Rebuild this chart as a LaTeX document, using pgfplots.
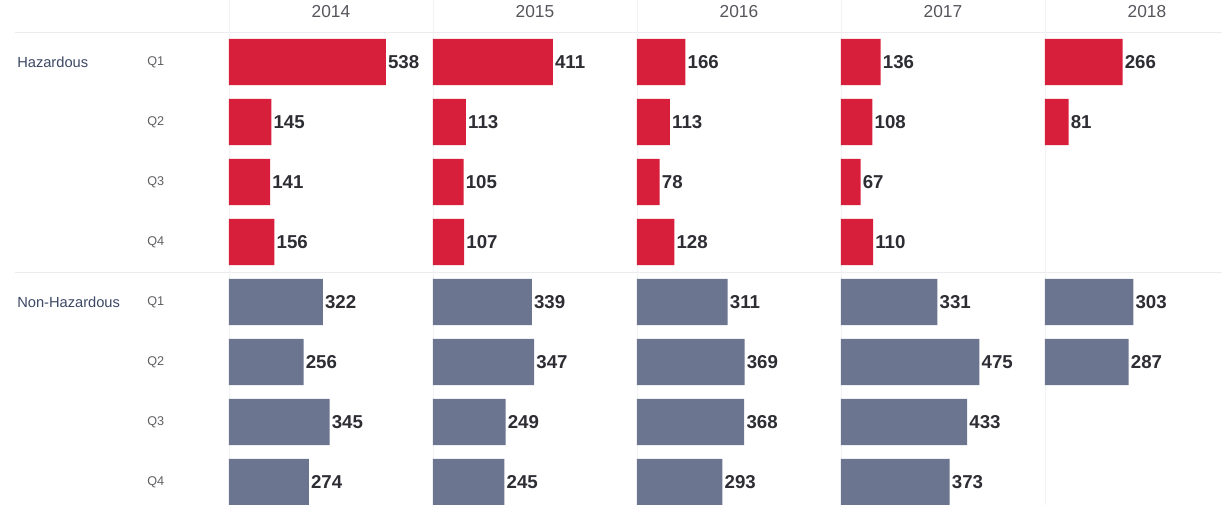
\documentclass[border=0pt]{standalone}
\usepackage{fontspec}
\setmainfont{Liberation Sans}
\usepackage{pgfplots}
\pgfplotsset{compat=1.18}
\usepgfplotslibrary{groupplots}
\definecolor{hz}{RGB}{215,30,58}
\definecolor{nh}{RGB}{108,117,143}
\definecolor{vtxt}{RGB}{45,45,52}
\definecolor{htxt}{RGB}{85,85,92}
\definecolor{qtxt}{RGB}{95,95,100}
\definecolor{ltxt}{RGB}{60,72,100}
\definecolor{gridc}{RGB}{236,236,238}
\definecolor{vgrid}{RGB}{242,242,244}
\begin{document}
\begin{tikzpicture}
\begin{groupplot}[
  group style={group size=5 by 1, horizontal sep=0pt, group name=G},
  width=153pt, height=354pt, scale only axis,
  xmin=0, xmax=700, ymin=-0.5, ymax=7.367, y dir=reverse,
  axis line style={draw=none}, major tick length=0pt,
  xtick=\empty, ytick=\empty,
  clip=false,
  xbar, /pgf/bar width=0.77, /pgf/bar shift=0pt,
  point meta=x,
  /pgf/number format/assume math mode=true,
  nodes near coords,
  nodes near coords style={font=\fontsize{14}{14}\selectfont\bfseries, text=vtxt, inner sep=1.5pt},
  title style={at={(0.5,1)}, anchor=center, yshift=9pt, font=\fontsize{13}{13}\selectfont, text=htxt},
]
\nextgroupplot[title={2014}, ytick={0,1,2,3,4,5,6,7}, yticklabels={Q1,Q2,Q3,Q4,Q1,Q2,Q3,Q4},
  yticklabel style={anchor=west, inner sep=0pt, xshift=-61.5pt, font=\fontsize{9.5}{10}\selectfont, text=qtxt}]
\coordinate (TL) at (axis cs:0,-0.5);
\draw[gridc] ([xshift=-160.5pt]axis cs:0,-0.5) -- ++(905pt,0pt);
\draw[gridc] ([xshift=-160.5pt]axis cs:0,3.5) -- ++(905pt,0pt);
\draw[vgrid] (axis cs:0,-1.03) -- (axis cs:0,7.4);
\node[anchor=west, inner sep=0pt, font=\fontsize{11}{11}\selectfont, text=ltxt] at ([xshift=-159pt]axis cs:0,0) {Hazardous};
\node[anchor=west, inner sep=0pt, font=\fontsize{11}{11}\selectfont, text=ltxt] at ([xshift=-159pt]axis cs:0,4) {Non-Hazardous};
\addplot[fill=hz, draw=none] coordinates {(538,0) (145,1) (141,2) (156,3)};
\addplot[fill=nh, draw=none] coordinates {(322,4) (256,5) (345,6) (274,7)};
\nextgroupplot[title={2015}]
\draw[vgrid] (axis cs:0,-1.03) -- (axis cs:0,7.4);
\addplot[fill=hz, draw=none] coordinates {(411,0) (113,1) (105,2) (107,3)};
\addplot[fill=nh, draw=none] coordinates {(339,4) (347,5) (249,6) (245,7)};
\nextgroupplot[title={2016}]
\draw[vgrid] (axis cs:0,-1.03) -- (axis cs:0,7.4);
\addplot[fill=hz, draw=none] coordinates {(166,0) (113,1) (78,2) (128,3)};
\addplot[fill=nh, draw=none] coordinates {(311,4) (369,5) (368,6) (293,7)};
\nextgroupplot[title={2017}]
\draw[vgrid] (axis cs:0,-1.03) -- (axis cs:0,7.4);
\addplot[fill=hz, draw=none] coordinates {(136,0) (108,1) (67,2) (110,3)};
\addplot[fill=nh, draw=none] coordinates {(331,4) (475,5) (433,6) (373,7)};
\nextgroupplot[title={2018}]
\draw[vgrid] (axis cs:0,-1.03) -- (axis cs:0,7.4);
\addplot[fill=hz, draw=none] coordinates {(266,0) (81,1)};
\addplot[fill=nh, draw=none] coordinates {(303,4) (287,5)};
\end{groupplot}
\pgfresetboundingbox
\path (TL) ++(-171.75pt,24pt) rectangle ++(916.5pt,-378pt);
\end{tikzpicture}
\end{document}
